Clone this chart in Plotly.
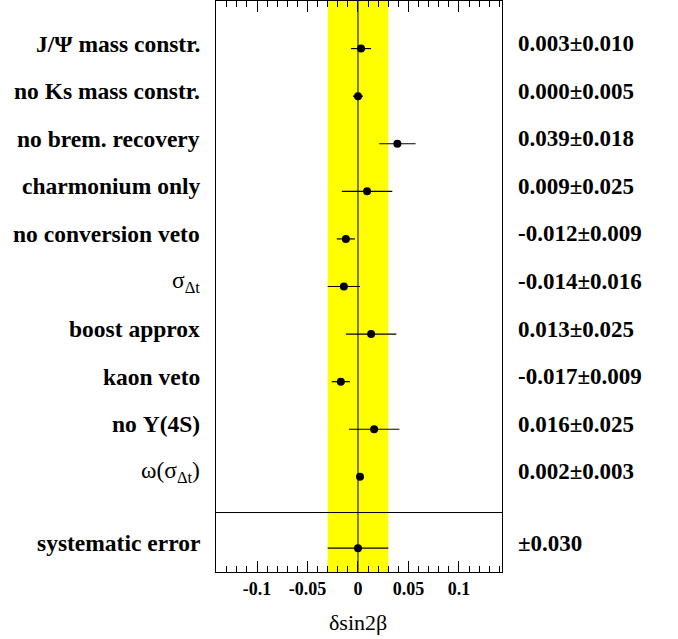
import plotly.graph_objects as go

labels = ["<b>J/Ψ mass constr.</b>", "<b>no Ks mass constr.</b>", "<b>no brem. recovery</b>",
          "<b>charmonium only</b>", "<b>no conversion veto</b>", "σ<sub>Δt</sub>",
          "<b>boost approx</b>", "<b>kaon veto</b>", "<b>no Υ(4S)</b>", "ω(σ<sub>Δt</sub>)"]
values = [0.003, 0.000, 0.039, 0.009, -0.012, -0.014, 0.013, -0.017, 0.016, 0.002]
errors = [0.010, 0.005, 0.018, 0.025, 0.009, 0.016, 0.025, 0.009, 0.025, 0.003]
value_texts = ["0.003±0.010", "0.000±0.005", "0.039±0.018", "0.009±0.025", "-0.012±0.009",
               "-0.014±0.016", "0.013±0.025", "-0.017±0.009", "0.016±0.025", "0.002±0.003"]
syst_label = "<b>systematic error</b>"
syst_value = 0.0
syst_error = 0.030
syst_text = "±0.030"
tick_vals = [-0.1, -0.05, 0, 0.05, 0.1]
tick_text = ["-0.1", "-0.05", "0", "0.05", "0.1"]

rows = list(range(len(values)))
syst_row = 10.5
sep_row = 9.75

FONT = "Times New Roman, Liberation Serif, serif"

fig = go.Figure()
fig.add_trace(go.Scatter(
    x=values + [syst_value], y=rows + [syst_row], mode="markers",
    marker=dict(color="black", size=8),
    error_x=dict(type="data", array=errors + [syst_error], color="black", thickness=1.2, width=0),
    showlegend=False, hoverinfo="skip"))

shapes = [
    dict(type="rect", xref="x", yref="paper", x0=-syst_error, x1=syst_error, y0=0, y1=1,
         fillcolor="#ffff00", line=dict(width=0), layer="below"),
    dict(type="line", xref="x", yref="paper", x0=0, x1=0, y0=0, y1=1,
         line=dict(color="black", width=1), layer="below"),
    dict(type="line", xref="paper", yref="y", x0=0, x1=1, y0=sep_row, y1=sep_row,
         line=dict(color="black", width=1), layer="below"),
]

annotations = []
all_labels = labels + [syst_label]
all_texts = [f"<b>{t}</b>" for t in value_texts] + [f"<b>{syst_text}</b>"]
all_rows = rows + [syst_row]
for lab, txt, r in zip(all_labels, all_texts, all_rows):
    annotations.append(dict(text=lab, xref="paper", yref="y", x=-0.049, y=r, xanchor="right",
                            yanchor="middle", yshift=5, showarrow=False,
                            font=dict(family=FONT, size=23.5, color="black")))
    annotations.append(dict(text=txt, xref="paper", yref="y", x=1.049, y=r, xanchor="left",
                            yanchor="middle", yshift=5, showarrow=False,
                            font=dict(family=FONT, size=23, color="black")))
annotations.append(dict(text="δsin2β", xref="x", yref="paper", x=0, y=-0.0876,
                        xanchor="center", yanchor="middle", showarrow=False,
                        font=dict(family=FONT, size=22, color="black")))

fig.update_layout(
    width=678, height=639,
    margin=dict(l=216, r=176, t=1, b=67),
    plot_bgcolor="white", paper_bgcolor="white",
    shapes=shapes, annotations=annotations,
    xaxis=dict(range=[-0.1406, 0.1426], tickvals=tick_vals,
               ticktext=[f"<b>{t}</b>" for t in tick_text],
               ticks="inside", ticklen=11, tickwidth=1, tickcolor="black",
               minor=dict(dtick=0.01, tick0=0, ticks="inside", ticklen=6, tickcolor="black", tickwidth=1),
               showline=True, linecolor="black", linewidth=1, mirror="allticks",
               showgrid=False, zeroline=False,
               tickfont=dict(family=FONT, size=18, color="black")),
    yaxis=dict(range=[11, -1], showticklabels=False, ticks="", showgrid=False, zeroline=False,
               showline=True, linecolor="black", linewidth=1, mirror=True),
)

fig.write_html("out.html", config={"displayModeBar": False},
               post_script="document.body.style.margin='0';")
